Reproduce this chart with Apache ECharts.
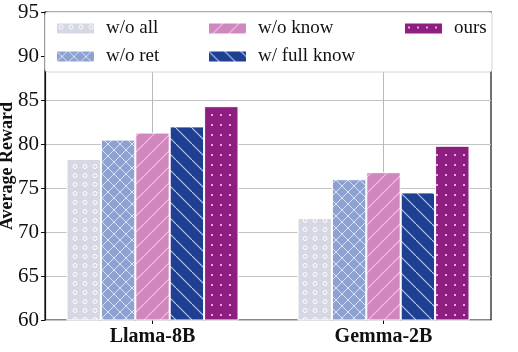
<!DOCTYPE html>
<html>
<head>
<meta charset="utf-8">
<script src="https://cdn.jsdelivr.net/npm/echarts@6/dist/echarts.min.js"></script>
<style>
  html, body { margin: 0; padding: 0; background: #fff; }
  #main { width: 518px; height: 352px; }
</style>
</head>
<body>
<div id="main"></div>
<script>
var models = ['Llama-8B', 'Gemma-2B'];
var variants = ['w/o all', 'w/o ret', 'w/o know', 'w/ full know', 'ours'];
var woAll = [78.3, 71.6];
var woRet = [80.5, 76.0];
var woKnow = [81.3, 76.8];
var fullKnow = [82.0, 74.5];
var ours = [84.3, 79.8];
var yTicks = [60, 95, 5];

// hatch tiles
function tile(w, h, bg, draw) {
    var c = document.createElement('canvas');
    c.width = w; c.height = h;
    var g = c.getContext('2d');
    g.fillStyle = bg;
    g.fillRect(0, 0, w, h);
    draw(g);
    return { image: c, repeat: 'repeat' };
}
var pats = [
    tile(10, 9, '#d5d7e3', function (g) {
        g.strokeStyle = '#ffffff'; g.lineWidth = 1;
        g.beginPath(); g.arc(5, 4.5, 2, 0, Math.PI * 2); g.stroke();
    }),
    tile(12, 12, '#8ea2d1', function (g) {
        g.strokeStyle = 'rgba(225,232,255,0.9)'; g.lineWidth = 1;
        g.beginPath();
        g.moveTo(0, 0); g.lineTo(12, 12);
        g.moveTo(12, 0); g.lineTo(0, 12);
        g.stroke();
    }),
    tile(16, 16, '#d087be', function (g) {
        g.strokeStyle = '#f6bde6'; g.lineWidth = 1.2;
        g.beginPath();
        g.moveTo(-1, 17); g.lineTo(17, -1);
        g.stroke();
    }),
    tile(16, 16, '#1f3f93', function (g) {
        g.strokeStyle = '#b9c8f2'; g.lineWidth = 1.1;
        g.beginPath();
        g.moveTo(-1, -1); g.lineTo(17, 17);
        g.stroke();
    }),
    tile(9, 10, '#8c1f7f', function (g) {
        g.fillStyle = '#f0a3de';
        g.fillRect(4, 4, 2, 2);
    })
];

var serif = 'Liberation Serif';
var values = [woAll, woRet, woKnow, fullKnow, ours];
var series = variants.map(function (name, i) {
    return {
        name: name,
        type: 'bar',
        xAxisIndex: 1,
        yAxisIndex: 1,
        barWidth: 34.4,
        barGap: '0%',
        itemStyle: { color: pats[i], borderColor: '#fff', borderWidth: 1 },
        data: values[i]
    };
});

function legend(names, left) {
    return {
        data: names,
        orient: 'vertical',
        left: left,
        top: 14,
        itemWidth: 39,
        itemHeight: 12,
        itemGap: 9,
        z: 20,
        icon: 'rect',
        textStyle: { fontFamily: serif, fontSize: 19, color: '#111', padding: [0, 0, 0, 6] }
    };
}

var myChart = echarts.init(document.getElementById('main'));
option = {
    animation: false,
    grid: [
        // frame + y axis
        { left: 45, right: 27, top: 12, bottom: 32, show: true, borderColor: '#111', borderWidth: 1.2, outerBoundsMode: 'none' },
        // bars (category centres at 152.5 / 383.5)
        { left: 37, right: 19, top: 12, bottom: 32, outerBoundsMode: 'none' },
        // tick labels and vertical grid lines
        { left: 152.5, right: 134.5, top: 12, bottom: 32, outerBoundsMode: 'none' }
    ],
    graphic: [{
        type: 'rect', z: 10,
        shape: { x: 45, y: 12, width: 447, height: 60, r: 3 },
        style: { fill: '#fff', stroke: '#d4d4d4', lineWidth: 1 }
    }],
    legend: [
        legend(['w/o all', 'w/o ret'], 50),
        legend(['w/o know', 'w/ full know'], 202),
        legend(['ours'], 398)
    ],
    xAxis: [
        { type: 'category', gridIndex: 0, data: models, show: false },
        { type: 'category', gridIndex: 1, data: models, show: false },
        {
            type: 'category', gridIndex: 2, data: models, boundaryGap: false,
            axisLine: { show: false },
            axisTick: { show: true, length: 4, lineStyle: { color: '#111' } },
            axisLabel: { fontFamily: serif, fontSize: 20, fontWeight: 'bold', color: '#111', margin: 7 },
            splitLine: { show: true, lineStyle: { color: '#b8b8b8', width: 1 } }
        }
    ],
    yAxis: [
        {
            type: 'value', gridIndex: 0, min: yTicks[0], max: yTicks[1], interval: yTicks[2],
            name: 'Average Reward', nameLocation: 'middle', nameGap: 29, nameMoveOverlap: false,
            nameTextStyle: { fontFamily: serif, fontSize: 18, fontWeight: 'bold', color: '#111' },
            axisLine: { show: true, lineStyle: { color: '#111', width: 1.2 } },
            axisTick: { show: true, length: 4, lineStyle: { color: '#111' } },
            axisLabel: { fontFamily: serif, fontSize: 21, color: '#111', margin: 6 },
            splitLine: { show: true, lineStyle: { color: '#c4c4c4', width: 1 } }
        },
        { type: 'value', gridIndex: 1, min: yTicks[0], max: yTicks[1], interval: yTicks[2], show: false },
        { type: 'value', gridIndex: 2, min: yTicks[0], max: yTicks[1], interval: yTicks[2], show: false }
    ],
    series: series
};
myChart.setOption(option);
</script>
</body>
</html>
